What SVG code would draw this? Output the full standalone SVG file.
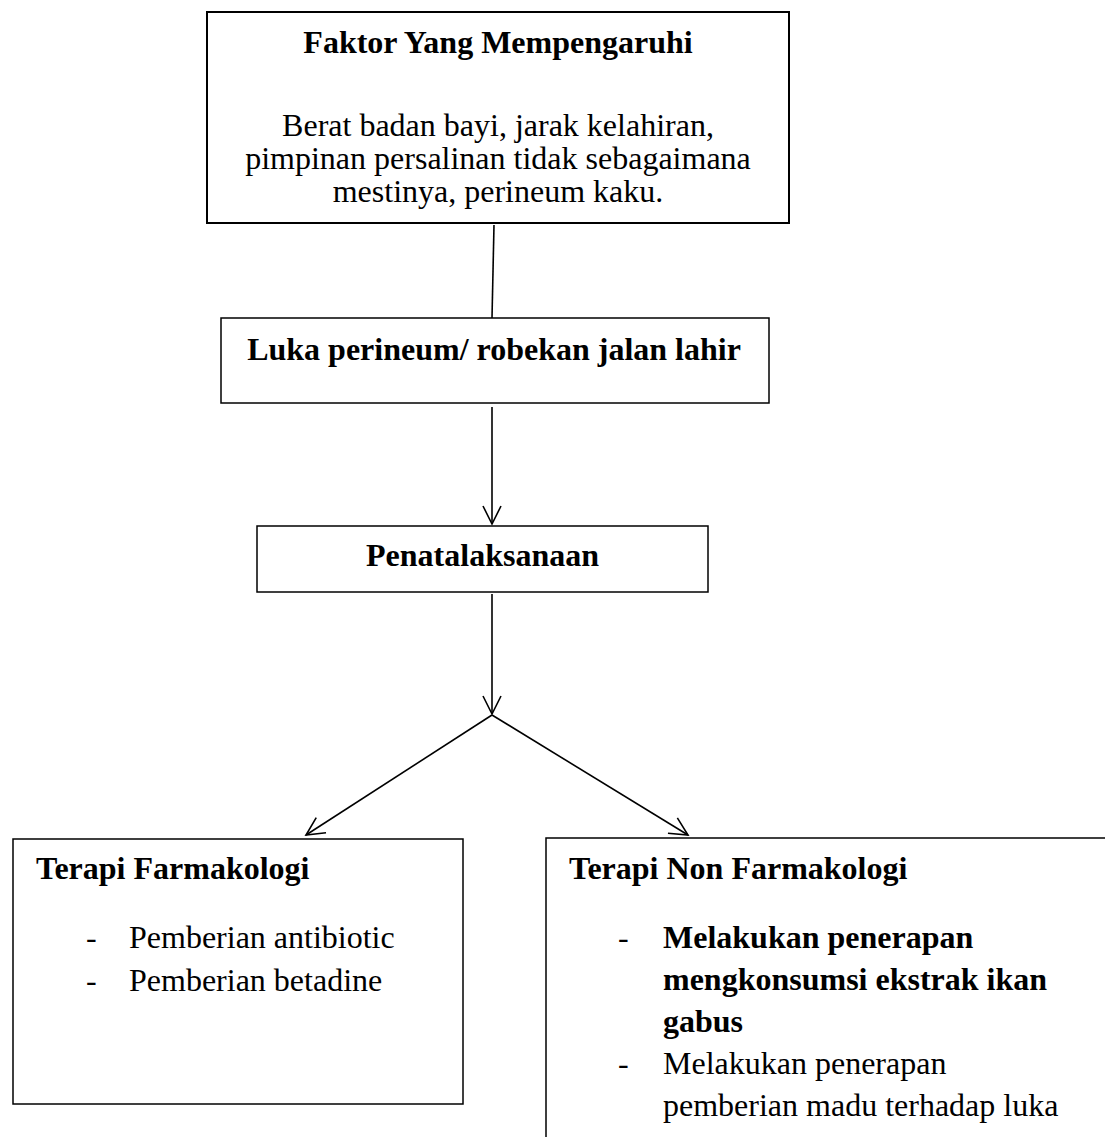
<svg xmlns="http://www.w3.org/2000/svg" width="1105" height="1137" viewBox="0 0 1105 1137">
<style>
text{font-family:"Liberation Serif","Times New Roman",serif;font-size:32px;fill:#000}
.b{font-weight:bold}
.c{text-anchor:middle}
.box{fill:#fff;stroke:#000;stroke-width:1.5}
.box2{fill:#fff;stroke:#000;stroke-width:2}
.ln{stroke:#000;stroke-width:1.6;fill:none}
</style>
<defs>
<marker id="arr" markerUnits="userSpaceOnUse" markerWidth="24" markerHeight="24" viewBox="-20 -12 24 24" refX="0" refY="0" orient="auto">
<path d="M-18,-9 L0,0 L-18,9" fill="none" stroke="#000" stroke-width="1.6"/>
</marker>
</defs>
<rect width="1105" height="1137" fill="#fff"/>
<g id="connectors">
<line class="ln" x1="494" y1="225" x2="492" y2="318"/>
<line class="ln" x1="492" y1="407" x2="492" y2="524" marker-end="url(#arr)"/>
<line class="ln" x1="492" y1="594" x2="492" y2="714" marker-end="url(#arr)"/>
<line class="ln" x1="492" y1="715" x2="306" y2="835" marker-end="url(#arr)"/>
<line class="ln" x1="492" y1="715" x2="688" y2="835" marker-end="url(#arr)"/>
</g>
<g id="faktor">
<rect class="box2" x="207" y="12" width="582" height="211"/>
<text class="b c" x="498" y="53">Faktor Yang Mempengaruhi</text>
<text class="c" x="498" y="136"><tspan x="498" y="136">Berat badan bayi, jarak kelahiran,</tspan><tspan x="498" y="169">pimpinan persalinan tidak sebagaimana</tspan><tspan x="498" y="202">mestinya, perineum kaku.</tspan></text>
</g>
<g id="luka">
<rect class="box" x="221" y="318" width="548" height="85"/>
<text class="b c" x="494" y="360">Luka perineum/ robekan jalan lahir</text>
</g>
<g id="penatalaksanaan">
<rect class="box" x="257" y="526" width="451" height="66"/>
<text class="b c" x="482.5" y="566">Penatalaksanaan</text>
</g>
<g id="farmakologi">
<rect class="box" x="13" y="839" width="450" height="265"/>
<text class="b" x="36" y="879">Terapi Farmakologi</text>
<text x="86" y="948">-</text>
<text x="129" y="948">Pemberian antibiotic</text>
<text x="86" y="991">-</text>
<text x="129" y="991">Pemberian betadine</text>
</g>
<g id="nonfarmakologi">
<rect class="box" x="546" y="838" width="600" height="400"/>
<text class="b" x="569" y="879">Terapi Non Farmakologi</text>
<text x="618" y="948">-</text>
<text class="b" x="663" y="948">Melakukan penerapan</text>
<text class="b" x="663" y="990">mengkonsumsi ekstrak ikan</text>
<text class="b" x="663" y="1032">gabus</text>
<text x="618" y="1074">-</text>
<text x="663" y="1074">Melakukan penerapan</text>
<text x="663" y="1116">pemberian madu terhadap luka</text>
</g>
</svg>
